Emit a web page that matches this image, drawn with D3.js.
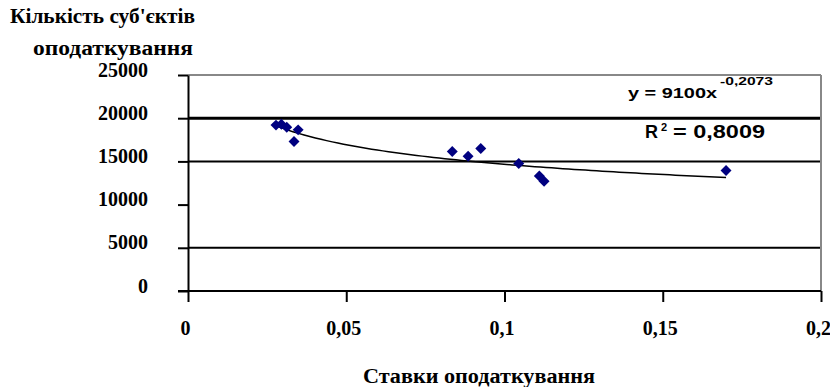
<!DOCTYPE html>
<html lang="uk">
<head>
  <meta charset="UTF-8">
  <title>Кількість суб'єктів оподаткування</title>
  <script src="https://d3js.org/d3.v7.min.js"></script>
  <style>
    body { margin: 0; background: #fff; }
    svg { display: block; background: #fff; }
    .serif { font-family: 'Liberation Serif', 'Times New Roman', serif; font-weight: bold; fill: #000; }
    .sans { font-family: 'Liberation Sans', Arial, sans-serif; font-weight: bold; fill: #000; }
  </style>
</head>
<body>
  <svg width="830" height="387"></svg>
  <script>
    // tax rate (x) and number of taxpayers (y)
    const rates = [0.0278, 0.0295, 0.0312, 0.0335, 0.0348, 0.0835, 0.0885, 0.0925, 0.1045, 0.1110, 0.1125, 0.1700];
    const counts = [19200, 19300, 18950, 17300, 18650, 16150, 15600, 16500, 14750, 13300, 12700, 13950];

    const xTicks = [0, 0.05, 0.1, 0.15, 0.2];
    const xTickLabels = ["0", "0,05", "0,1", "0,15", "0,2"];
    const yTicks = [0, 5000, 10000, 15000, 20000, 25000];
    const yTickLabels = ["0", "5000", "10000", "15000", "20000", "25000"];
    const gridValues = [5000, 15000, 20000];

    // power trendline shown on the chart
    const trendA = 9100, trendB = -0.2073, rSquared = 0.8009;

    const points = rates.map((r, i) => ({ x: r, y: counts[i] }));

    const svg = d3.select("svg");
    const plotLeft = 188, plotRight = 821, plotTop = 75, plotBottom = 291;

    const x = d3.scaleLinear().domain([0, 0.2]).range([plotLeft, plotRight]);
    const y = d3.scaleLinear().domain([0, 25000]).range([plotBottom, plotTop]);

    // grid lines
    svg.append("g").selectAll("line")
      .data(gridValues)
      .join("line")
      .attr("x1", plotLeft).attr("x2", plotRight)
      .attr("y1", d => y(d)).attr("y2", d => y(d))
      .attr("stroke", "#000")
      .attr("stroke-width", d => d === 20000 ? 3 : 2);

    // top and right frame
    svg.append("line")
      .attr("x1", plotLeft).attr("x2", plotRight).attr("y1", y(25000)).attr("y2", y(25000))
      .attr("stroke", "#888").attr("stroke-width", 2);
    svg.append("line")
      .attr("x1", plotRight).attr("x2", plotRight).attr("y1", y(25000)).attr("y2", y(0))
      .attr("stroke", "#888").attr("stroke-width", 2);

    // axes
    const xAxis = svg.append("g")
      .attr("transform", `translate(0,${plotBottom})`)
      .call(d3.axisBottom(x).tickValues(xTicks)
        .tickFormat((d, i) => xTickLabels[i])
        .tickSize(11).tickSizeOuter(0).tickPadding(19));
    const yAxis = svg.append("g")
      .attr("transform", `translate(${plotLeft},0)`)
      .call(d3.axisLeft(y).tickValues(yTicks)
        .tickFormat((d, i) => yTickLabels[i])
        .tickSize(10).tickSizeOuter(0).tickPadding(30));

    [xAxis, yAxis].forEach(g => {
      g.select(".domain").attr("stroke", "#000").attr("stroke-width", 2);
      g.selectAll(".tick line").attr("stroke", "#000").attr("stroke-width", 2);
      g.selectAll(".tick text")
        .attr("class", "serif")
        .style("font-size", "20px")
        .attr("fill", "#000");
    });
    xAxis.selectAll(".tick text").attr("dx", -3);
    yAxis.selectAll(".tick text").attr("dy", "0.05em");
    // x axis line also extends left to the y tick ends
    xAxis.select(".domain").attr("d", `M${plotLeft - 10},0H${plotRight}`);

    // trendline
    const xs = d3.extent(rates);
    const trendData = d3.range(xs[0], xs[1] + 1e-9, (xs[1] - xs[0]) / 80)
      .map(v => ({ x: v, y: trendA * Math.pow(v, trendB) }));
    svg.append("path")
      .datum(trendData)
      .attr("fill", "none")
      .attr("stroke", "#000")
      .attr("stroke-width", 1.5)
      .attr("d", d3.line().x(d => x(d.x)).y(d => y(d.y)));

    // markers
    svg.append("g").selectAll("path")
      .data(points)
      .join("path")
      .attr("transform", d => `translate(${x(d.x)},${y(d.y)}) rotate(45)`)
      .attr("d", d3.symbol().type(d3.symbolSquare).size(60))
      .attr("fill", "#000080");

    // trendline labels
    const fmtComma = v => String(v).replace(".", ",");
    svg.append("text").attr("class", "sans")
      .attr("x", 628).attr("y", 98)
      .style("font-size", "14px")
      .attr("textLength", 89).attr("lengthAdjust", "spacingAndGlyphs")
      .text(`y = ${trendA}x`);
    svg.append("text").attr("class", "sans")
      .attr("x", 720).attr("y", 85)
      .style("font-size", "11px")
      .attr("textLength", 53).attr("lengthAdjust", "spacingAndGlyphs")
      .text(fmtComma(trendB));
    svg.append("text").attr("class", "sans")
      .attr("x", 645).attr("y", 138)
      .style("font-size", "18px")
      .text("R");
    svg.append("text").attr("class", "sans")
      .attr("x", 661).attr("y", 131)
      .style("font-size", "11px")
      .text("2");
    svg.append("text").attr("class", "sans")
      .attr("x", 673).attr("y", 138)
      .style("font-size", "18px")
      .attr("textLength", 92).attr("lengthAdjust", "spacingAndGlyphs")
      .text(`= ${fmtComma(rSquared)}`);

    // axis titles
    svg.append("text").attr("class", "serif")
      .attr("x", 10).attr("y", 23)
      .style("font-size", "20px")
      .attr("textLength", 185).attr("lengthAdjust", "spacingAndGlyphs")
      .text("Кількість суб'єктів");
    svg.append("text").attr("class", "serif")
      .attr("x", 33).attr("y", 55)
      .style("font-size", "20px")
      .attr("textLength", 160).attr("lengthAdjust", "spacingAndGlyphs")
      .text("оподаткування");
    svg.append("text").attr("class", "serif")
      .attr("x", 363).attr("y", 383)
      .style("font-size", "20px")
      .attr("textLength", 232).attr("lengthAdjust", "spacingAndGlyphs")
      .text("Ставки оподаткування");
  </script>
</body>
</html>
